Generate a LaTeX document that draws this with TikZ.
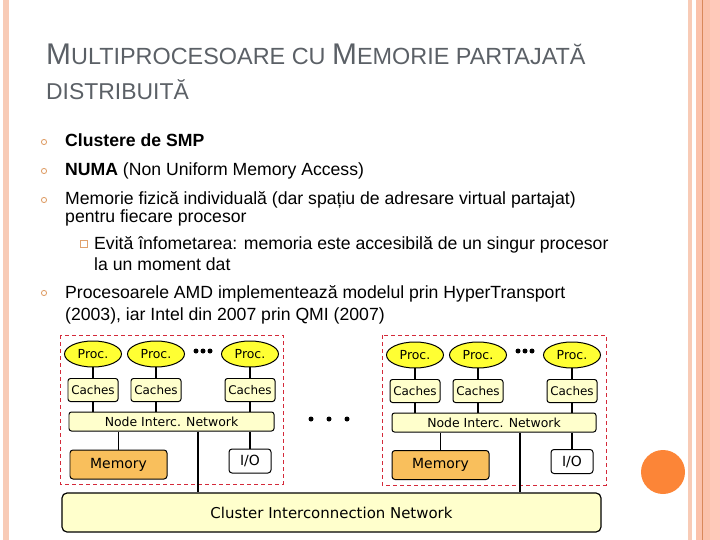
\documentclass[tikz,border=0pt]{standalone}
\usepackage{fontspec}
\setmainfont{Liberation Sans}
\newfontfamily\diafont{DejaVu Sans}
\usetikzlibrary{shapes.geometric}
\definecolor{titlegray}{HTML}{5B6066}
\definecolor{peachA}{HTML}{F8CBB6}
\definecolor{peachB}{HTML}{FBC2AB}
\definecolor{peachC}{HTML}{FFC9BA}
\definecolor{peachdark}{HTML}{D9895A}
\definecolor{bulletc}{HTML}{E0A26E}
\definecolor{procy}{HTML}{FFFF33}
\definecolor{lighty}{HTML}{FFFFCC}
\definecolor{memor}{HTML}{F9BF5C}
\definecolor{dashred}{HTML}{D42A3A}
\definecolor{dotor}{HTML}{FC8537}
\tikzset{
  body/.style={anchor=base west, inner sep=0pt, font=\fontsize{17.7}{19}\selectfont},
  bul/.style={draw=bulletc, line width=0.9pt, fill=white},
  proc/.style={ellipse, draw, line width=1pt, fill=procy, minimum width=57bp, minimum height=26bp, inner sep=0pt, font=\diafont\fontsize{12.5}{13}\selectfont},
  cache/.style={draw, line width=1pt, fill=lighty, rounded corners=2.5bp, minimum width=50bp, minimum height=23bp, inner sep=0pt, font=\diafont\fontsize{12}{12}\selectfont},
  netw/.style={draw, line width=1pt, fill=lighty, rounded corners=2.5bp, minimum width=205bp, minimum height=19bp, inner sep=0pt, font=\diafont\fontsize{12.5}{13}\selectfont},
  memb/.style={draw, line width=1pt, fill=memor, rounded corners=3bp, minimum width=97bp, minimum height=29bp, inner sep=0pt, font=\diafont\fontsize{14}{14}\selectfont},
  iob/.style={draw, line width=1pt, fill=white, rounded corners=3bp, minimum width=42bp, minimum height=24bp, inner sep=0pt, font=\diafont\fontsize{14}{14}\selectfont},
  clus/.style={draw, line width=1.2pt, fill=lighty, rounded corners=5bp, minimum width=539bp, minimum height=39bp, inner sep=0pt, font=\diafont\fontsize{15}{15}\selectfont},
  wire/.style={line width=1.4pt},
  dbox/.style={draw=dashred, line width=1pt, dash pattern=on 4bp off 3bp},
  bigdot/.style={circle, fill=black, inner sep=0pt, minimum size=5bp},
}
\begin{document}
\begin{tikzpicture}[x=1bp, y=-1bp]
\useasboundingbox (0,0) rectangle (720,540);
% slide decoration
\fill[peachA] (3,0) rectangle (9,540);
\fill[peachA] (688,0) rectangle (692,540);
\fill[peachB] (696,0) rectangle (710,540);
\fill[peachdark] (701.8,0) rectangle (702.8,540);
\fill[peachC] (710,0) rectangle (720,540);
\fill[dotor] (663,472) circle (22);
% title
\node[anchor=base west, inner sep=0pt, text=titlegray] (t1) at (46,65)
  {{\fontsize{30}{30}\selectfont M}{\fontsize{23.5}{24}\selectfont ULTIPROCESOARE CU }{\fontsize{30}{30}\selectfont M}{\fontsize{23.5}{24}\selectfont EMORIE PARTAJATĂ}};
\node[anchor=base west, inner sep=0pt, text=titlegray] (t2) at (46,100)
  {\fontsize{23}{24}\selectfont DISTRIBUITĂ};
% bullets
\draw[bul] (44,142) circle (2.6);
\node[body] (b1) at (65,147) {\textbf{Clustere de SMP}};
\draw[bul] (44,171) circle (2.6);
\node[body] (b2) at (65,176) {\textbf{NUMA} (Non Uniform Memory Access)};
\draw[bul] (44,200) circle (2.6);
\node[body] (b3) at (65,205) {Memorie fizică individuală (dar spațiu de adresare virtual partajat)};
\node[body] (b3b) at (65,223) {pentru fiecare procesor};
\draw[draw=bulletc, line width=0.8pt] (80,240) rectangle (87.5,247.5);
\node[body] (b4) at (94,250) {Evită înfometarea: memoria este accesibilă de un singur procesor};
\node[body] (b4b) at (94,271) {la un moment dat};
\draw[bul] (44,293) circle (2.6);
\node[body] (b5) at (65,298) {Procesoarele AMD implementează modelul prin HyperTransport};
\node[body] (b5b) at (65,320) {(2003), iar Intel din 2007 prin QMI (2007)};
% dashed boxes
\draw[dbox] (60,335) rectangle (283,484);
\draw[dbox] (382,335) rectangle (606,485);
% cluster network
\node[clus] (CL) at (331.5,512.5) {Cluster Interconnection Network};
% left node
\node[proc] (LP1) at (93,354) {Proc.};
\node[proc] (LP2) at (156,354) {Proc.};
\node[proc] (LP3) at (250,354) {Proc.};
\node[cache] (LC1) at (93,390) {Caches};
\node[cache] (LC2) at (156,390) {Caches};
\node[cache] (LC3) at (250,390) {Caches};
\node[netw] (LN) at (171.5,421.5) {Node Interc. Network};
\node[memb] (LM) at (118.5,464.5) {Memory};
\node[iob] (LIO) at (250,461) {I/O};
\node[bigdot, minimum size=5bp] (ld1) at (196,351) {};
\node[bigdot, minimum size=5bp] (ld2) at (203,351) {};
\node[bigdot, minimum size=5bp] (ld3) at (210,351) {};
\foreach \i in {1,2,3} {
  \draw[wire] (LP\i) -- (LC\i);
  \draw[wire] (LC\i.south) -- (LC\i.south |- LN.north);
}
\draw[wire] (LM.north) -- (LM.north |- LN.south);
\draw[wire] (LIO.north) -- (LIO.north |- LN.south);
\draw[wire] ([xshift=26.5bp]LN.south) -- ([xshift=26.5bp]LN.south |- CL.north);
% right node
\node[proc] (RP1) at (415,355) {Proc.};
\node[proc] (RP2) at (478,355) {Proc.};
\node[proc] (RP3) at (572,355) {Proc.};
\node[cache] (RC1) at (415,391) {Caches};
\node[cache] (RC2) at (478,391) {Caches};
\node[cache] (RC3) at (572,391) {Caches};
\node[netw, minimum width=204bp] (RN) at (494,422.5) {Node Interc. Network};
\node[memb] (RM) at (440.5,465) {Memory};
\node[iob] (RIO) at (572,461.5) {I/O};
\node[bigdot, minimum size=5bp] (rd1) at (518,351) {};
\node[bigdot, minimum size=5bp] (rd2) at (525,351) {};
\node[bigdot, minimum size=5bp] (rd3) at (532,351) {};
\foreach \i in {1,2,3} {
  \draw[wire] (RP\i) -- (RC\i);
  \draw[wire] (RC\i.south) -- (RC\i.south |- RN.north);
}
\draw[wire] (RM.north) -- (RM.north |- RN.south);
\draw[wire] (RIO.north) -- (RIO.north |- RN.south);
\draw[wire] ([xshift=26bp]RN.south) -- ([xshift=26bp]RN.south |- CL.north);
% middle dots
\node[bigdot] (md1) at (311,419) {};
\node[bigdot] (md2) at (329,419) {};
\node[bigdot] (md3) at (347,419) {};
\end{tikzpicture}
\end{document}
